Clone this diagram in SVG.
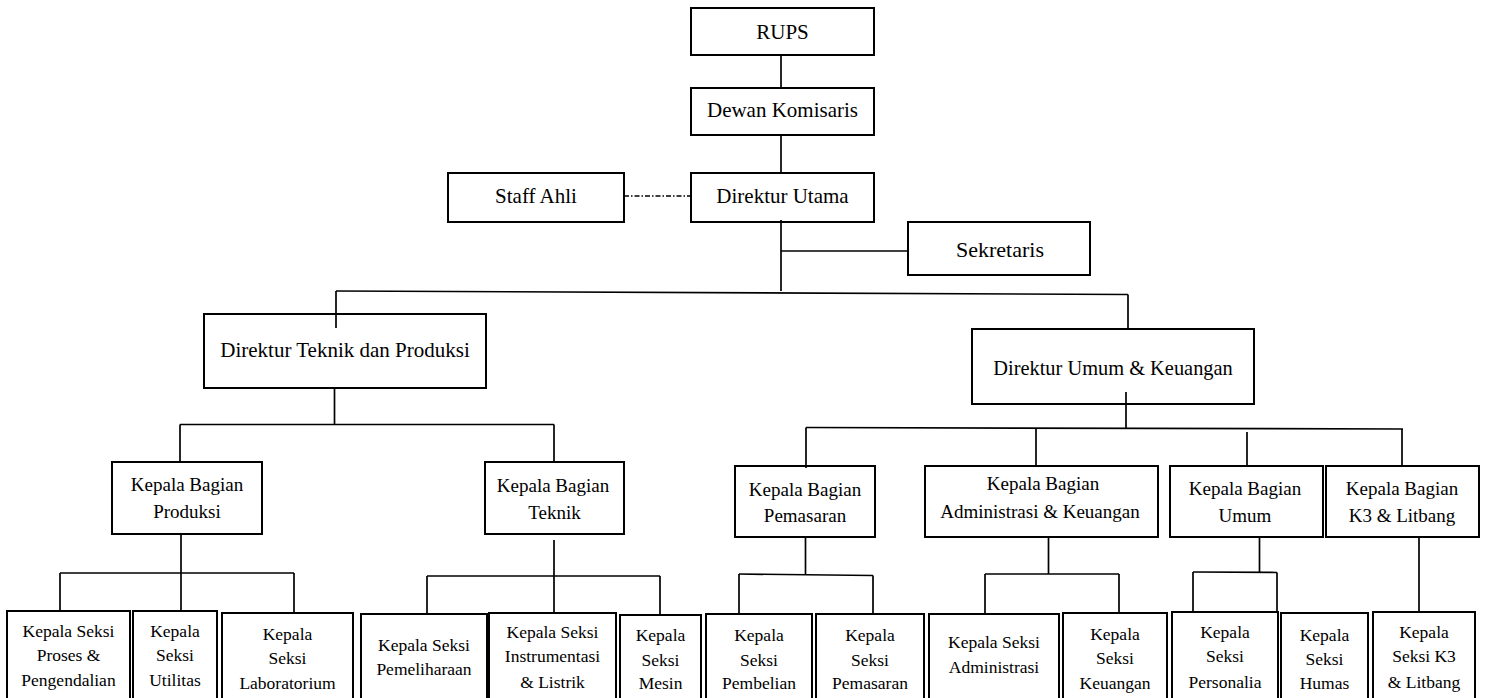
<svg xmlns="http://www.w3.org/2000/svg" width="1491" height="698" viewBox="0 0 1491 698">
<style>
  .box { fill: #ffffff; stroke: #000000; stroke-width: 2; }
  .ln { fill: none; stroke: #000000; stroke-width: 1.7; }
  .dd { fill: none; stroke: #000000; stroke-width: 1.5; stroke-dasharray: 5 2 1.5 2; }
  text { font-family: "Liberation Serif", "Times New Roman", "DejaVu Serif", serif; fill: #000000; text-anchor: middle; }
  .t1 { font-size: 21px; }
  .t2 { font-size: 19px; }
  .t3 { font-size: 17.5px; }
</style>
<rect width="1491" height="698" fill="#ffffff"/>

<g id="rups"><rect class="box" x="691" y="8" width="183" height="47"/><text class="t1" x="782.5" y="38.5">RUPS</text></g>
<g id="dewan-komisaris"><rect class="box" x="691" y="88" width="183" height="47"/><text class="t1" x="782.5" y="117">Dewan Komisaris</text></g>
<g id="direktur-utama"><rect class="box" x="691" y="173" width="183" height="49"/><text class="t1" x="782.5" y="202.5">Direktur Utama</text></g>
<g id="staff-ahli"><rect class="box" x="448" y="173" width="176" height="49"/><text class="t1" x="536" y="202.5">Staff Ahli</text></g>
<g id="sekretaris"><rect class="box" x="908" y="222" width="182" height="53"/><text class="t1" x="1000" y="257" style="font-size:22px">Sekretaris</text></g>
<g id="direktur-teknik"><rect class="box" x="204" y="314" width="282" height="74"/><text class="t1" x="345" y="357">Direktur Teknik dan Produksi</text></g>
<g id="direktur-umum"><rect class="box" x="972" y="329" width="282" height="75"/><text class="t1" x="1113" y="375" style="font-size:20.4px">Direktur Umum &amp; Keuangan</text></g>

<g id="kb-produksi"><rect class="box" x="112" y="462" width="150" height="72"/><text class="t2" x="187" y="491">Kepala Bagian</text><text class="t2" x="187" y="517.5">Produksi</text></g>
<g id="kb-teknik"><rect class="box" x="485" y="462" width="139" height="72"/><text class="t2" x="553" y="491.5">Kepala Bagian</text><text class="t2" x="554.5" y="519">Teknik</text></g>
<g id="kb-pemasaran"><rect class="box" x="735" y="466" width="140" height="71"/><text class="t2" x="805" y="496">Kepala Bagian</text><text class="t2" x="805" y="521.5">Pemasaran</text></g>
<g id="kb-administrasi"><rect class="box" x="925" y="466" width="233" height="71"/><text class="t2" x="1043" y="490">Kepala Bagian</text><text class="t2" x="1040" y="518">Administrasi &amp; Keuangan</text></g>
<g id="kb-umum"><rect class="box" x="1170" y="466" width="153" height="71"/><text class="t2" x="1245" y="495">Kepala Bagian</text><text class="t2" x="1245" y="521.5">Umum</text></g>
<g id="kb-k3"><rect class="box" x="1326" y="466" width="153" height="71"/><text class="t2" x="1402" y="495">Kepala Bagian</text><text class="t2" x="1402" y="521.5">K3 &amp; Litbang</text></g>

<g id="ks-proses"><rect class="box" x="7" y="611" width="123" height="100"/><text class="t3" x="68.5" y="637">Kepala Seksi</text><text class="t3" x="68.5" y="661">Proses &amp;</text><text class="t3" x="68.5" y="686">Pengendalian</text></g>
<g id="ks-utilitas"><rect class="box" x="133" y="611" width="84" height="100"/><text class="t3" x="175" y="637">Kepala</text><text class="t3" x="175" y="661">Seksi</text><text class="t3" x="175" y="686">Utilitas</text></g>
<g id="ks-laboratorium"><rect class="box" x="222" y="613" width="131" height="100"/><text class="t3" x="287.5" y="640">Kepala</text><text class="t3" x="287.5" y="663.5">Seksi</text><text class="t3" x="287.5" y="689">Laboratorium</text></g>
<g id="ks-pemeliharaan"><rect class="box" x="361" y="614" width="126" height="100"/><text class="t3" x="424" y="650.5">Kepala Seksi</text><text class="t3" x="424" y="675">Pemeliharaan</text></g>
<g id="ks-instrumentasi"><rect class="box" x="489" y="613" width="127" height="100"/><text class="t3" x="552.5" y="638">Kepala Seksi</text><text class="t3" x="552.5" y="662">Instrumentasi</text><text class="t3" x="552.5" y="688">&amp; Listrik</text></g>
<g id="ks-mesin"><rect class="box" x="620" y="615" width="81" height="100"/><text class="t3" x="660.5" y="641">Kepala</text><text class="t3" x="660.5" y="665.5">Seksi</text><text class="t3" x="660.5" y="689">Mesin</text></g>
<g id="ks-pembelian"><rect class="box" x="706" y="614" width="106" height="100"/><text class="t3" x="759" y="641">Kepala</text><text class="t3" x="759" y="665.5">Seksi</text><text class="t3" x="759" y="689">Pembelian</text></g>
<g id="ks-pemasaran"><rect class="box" x="816" y="614" width="108" height="100"/><text class="t3" x="870" y="641">Kepala</text><text class="t3" x="870" y="665.5">Seksi</text><text class="t3" x="870" y="689">Pemasaran</text></g>
<g id="ks-administrasi"><rect class="box" x="929" y="614" width="130" height="100"/><text class="t3" x="994" y="648">Kepala Seksi</text><text class="t3" x="994" y="673">Administrasi</text></g>
<g id="ks-keuangan"><rect class="box" x="1063" y="613" width="104" height="100"/><text class="t3" x="1115" y="640">Kepala</text><text class="t3" x="1115" y="664">Seksi</text><text class="t3" x="1115" y="689">Keuangan</text></g>
<g id="ks-personalia"><rect class="box" x="1172" y="612" width="106" height="100"/><text class="t3" x="1225" y="638">Kepala</text><text class="t3" x="1225" y="662">Seksi</text><text class="t3" x="1225" y="688">Personalia</text></g>
<g id="ks-humas"><rect class="box" x="1281" y="613" width="87" height="100"/><text class="t3" x="1324.5" y="641">Kepala</text><text class="t3" x="1324.5" y="665">Seksi</text><text class="t3" x="1324.5" y="689">Humas</text></g>
<g id="ks-k3"><rect class="box" x="1373" y="612" width="102" height="100"/><text class="t3" x="1424" y="638">Kepala</text><text class="t3" x="1424" y="662">Seksi K3</text><text class="t3" x="1424" y="688">&amp; Litbang</text></g>

<g id="connectors">
  <line class="ln" x1="781" y1="55" x2="781" y2="88"/>
  <line class="ln" x1="781" y1="135" x2="781" y2="173"/>
  <line class="dd" x1="624" y1="196" x2="691" y2="196"/>
  <line class="ln" x1="781" y1="220" x2="781" y2="291"/>
  <line class="ln" x1="781" y1="251" x2="908" y2="251"/>
  <line class="ln" x1="336" y1="291" x2="1128" y2="294.5"/>
  <line class="ln" x1="336" y1="291" x2="336" y2="328"/>
  <line class="ln" x1="1128" y1="294.5" x2="1128" y2="329"/>
  <line class="ln" x1="334.5" y1="388" x2="334.5" y2="424.5"/>
  <line class="ln" x1="180" y1="424.5" x2="554" y2="424.5"/>
  <line class="ln" x1="180" y1="424.5" x2="180" y2="462"/>
  <line class="ln" x1="554" y1="424.5" x2="554" y2="463"/>
  <line class="ln" x1="1126" y1="392" x2="1126" y2="428"/>
  <line class="ln" x1="806" y1="427.5" x2="1403" y2="429"/>
  <line class="ln" x1="806" y1="427.5" x2="806" y2="468"/>
  <line class="ln" x1="1036" y1="428" x2="1036" y2="466"/>
  <line class="ln" x1="1247" y1="432" x2="1247" y2="466"/>
  <line class="ln" x1="1402" y1="429" x2="1402" y2="466"/>
  <line class="ln" x1="181" y1="534" x2="181" y2="573"/>
  <line class="ln" x1="60" y1="573" x2="294" y2="573"/>
  <line class="ln" x1="60" y1="573" x2="60" y2="611"/>
  <line class="ln" x1="181" y1="573" x2="181" y2="611"/>
  <line class="ln" x1="294" y1="573" x2="294" y2="613"/>
  <line class="ln" x1="554" y1="540" x2="554" y2="576"/>
  <line class="ln" x1="427" y1="576" x2="660" y2="576"/>
  <line class="ln" x1="427" y1="576" x2="427" y2="614"/>
  <line class="ln" x1="554" y1="576" x2="554" y2="613"/>
  <line class="ln" x1="660" y1="576" x2="660" y2="615"/>
  <line class="ln" x1="805.5" y1="537" x2="805.5" y2="574"/>
  <line class="ln" x1="739" y1="574" x2="873" y2="575.5"/>
  <line class="ln" x1="739" y1="574" x2="739" y2="614"/>
  <line class="ln" x1="873" y1="575.5" x2="873" y2="614"/>
  <line class="ln" x1="1048.5" y1="537" x2="1048.5" y2="574"/>
  <line class="ln" x1="985" y1="574" x2="1119" y2="574"/>
  <line class="ln" x1="985" y1="574" x2="985" y2="614"/>
  <line class="ln" x1="1119" y1="574" x2="1119" y2="613"/>
  <line class="ln" x1="1259.5" y1="536" x2="1259.5" y2="572"/>
  <line class="ln" x1="1193" y1="572" x2="1277" y2="572.5"/>
  <line class="ln" x1="1193" y1="572" x2="1193" y2="612"/>
  <line class="ln" x1="1277" y1="572.5" x2="1277" y2="613"/>
  <line class="ln" x1="1419" y1="537" x2="1419" y2="612"/>
</g>
</svg>
